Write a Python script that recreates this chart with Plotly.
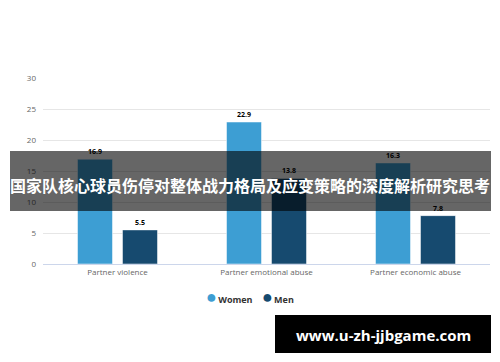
import plotly.graph_objects as go

categories = ["Partner violence", "Partner emotional abuse", "Partner economic abuse"]
women = [16.9, 22.9, 16.3]
men = [5.5, 13.8, 7.8]
y_ticks = [0, 5, 10, 15, 20, 25, 30]
series_names = ["Women", "Men"]
overlay_title = "国家队核心球员伤停对整体战力格局及应变策略的深度解析研究思考"
watermark = "www.u-zh-jjbgame.com"

W, H = 500, 362
L, R, T, B = 43, 10, 78, 98
PW, PH = W - L - R, H - T - B

def px(x):
    return (x - L) / PW

def py(y):
    return (H - B - y) / PH

women_color = "#3d9ed3"
men_color = "#164a6f"
colors = [women_color, men_color]

fig = go.Figure()
fig.add_trace(go.Bar(x=categories, y=women, name=series_names[0], marker=dict(color=women_color, line=dict(color="#ffffff", width=0.5)),
                     texttemplate="<b>%{y}</b>", textposition="outside", cliponaxis=False,
                     textfont=dict(size=7, color="#000000", family="Open Sans")))
fig.add_trace(go.Bar(x=categories, y=men, name=series_names[1], marker=dict(color=men_color, line=dict(color="#ffffff", width=0.5)),
                     texttemplate="<b>%{y}</b>", textposition="outside", cliponaxis=False,
                     textfont=dict(size=7, color="#000000", family="Open Sans")))

legend_text = "&nbsp;&nbsp;&nbsp;&nbsp;".join(
    f"<span style='color:{c};font-size:18px'>●</span><span style='font-size:5px'>&nbsp;</span><b>{n}</b>"
    for n, c in zip(series_names, colors)
)

fig.update_layout(
    width=W, height=H,
    margin=dict(l=L, r=R, t=T, b=B, pad=0),
    paper_bgcolor="#ffffff", plot_bgcolor="#ffffff",
    barmode="group", bargap=0.396, bargroupgap=0.222,
    showlegend=False,
    font=dict(family="Open Sans", color="#666666", size=8),
    xaxis=dict(showgrid=False, showline=True, linecolor="#ccd6eb", linewidth=1,
               ticks="", tickfont=dict(size=8, color="#666666")),
    yaxis=dict(range=[0, 30], tickvals=y_ticks, showgrid=True, gridcolor="#e6e6e6", gridwidth=1,
               zeroline=False, showline=False, ticks="", ticklabelstandoff=6,
               tickfont=dict(size=8, color="#666666"),
               title=dict(text="%", font=dict(size=8, color="#666666"), standoff=8)),
    shapes=[
        dict(type="rect", xref="paper", yref="paper", x0=px(10), x1=px(491), y0=py(151), y1=py(211),
             fillcolor="rgba(0,0,0,0.6)", line=dict(width=0), layer="above"),
        dict(type="rect", xref="paper", yref="paper", x0=px(275), x1=px(491), y0=py(315), y1=py(353),
             fillcolor="#000000", line=dict(width=0), layer="above"),
    ],
    annotations=[
        dict(text=legend_text, xref="paper", yref="paper", x=px(250), y=py(296),
             xanchor="center", yanchor="middle", showarrow=False,
             font=dict(family="Open Sans", size=9, color="#333333")),
        dict(text=f"<b>{overlay_title}</b>", xref="paper", yref="paper", x=px(250), y=py(185),
             xanchor="center", yanchor="middle", showarrow=False,
             font=dict(family="Noto Sans CJK SC", size=16, color="#ffffff")),
        dict(text=f"<b>{watermark}</b>", xref="paper", yref="paper", x=px(383), y=py(335),
             xanchor="center", yanchor="middle", showarrow=False,
             font=dict(family="Open Sans", size=15, color="#ffffff")),
    ],
)

fig.write_html("out.html")
